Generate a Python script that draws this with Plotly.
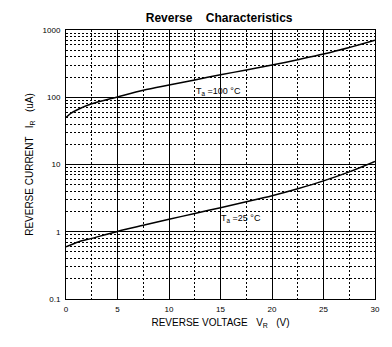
import plotly.graph_objects as go

voltage = [0, 0.5, 1.25, 2.5, 5, 7.5, 10, 12.5, 15, 17.5, 20, 22.5, 25, 27.5, 30]
i_100c = [50, 58, 67, 80, 101, 127, 152, 181, 216, 254, 301, 362, 439, 550, 706]
i_25c = [0.597, 0.64, 0.71, 0.797, 1.01, 1.245, 1.53, 1.87, 2.28, 2.79, 3.44, 4.37, 5.71, 7.76, 11.1]

y_ticks = [0.1, 1, 10, 100, 1000]
y_tick_text = ["0.1", "1", "10", "100", "1000"]
x_ticks = [0, 5, 10, 15, 20, 25, 30]

fig = go.Figure()
fig.add_trace(go.Scatter(x=voltage, y=i_100c, mode="lines",
                         line=dict(color="black", width=1.5, shape="spline", smoothing=0.8), showlegend=False))
fig.add_trace(go.Scatter(x=voltage, y=i_25c, mode="lines",
                         line=dict(color="black", width=1.5, shape="spline", smoothing=0.8), showlegend=False))

fnt = "Liberation Sans, Arial, sans-serif"
fig.add_annotation(x=12.4, y=2.08, text="T<sub>a</sub> =100 °C", showarrow=False, xanchor="left", yanchor="middle",
                   font=dict(family=fnt, size=9, color="black"))
fig.add_annotation(x=14.9, y=0.19, text="T<sub>a</sub> =25 °C", showarrow=False, xanchor="left", yanchor="middle",
                   font=dict(family=fnt, size=9, color="black"))

fig.update_layout(
    width=392, height=347,
    margin=dict(l=66, r=15, t=30, b=48),
    paper_bgcolor="white", plot_bgcolor="white",
    title=dict(text="<b>Reverse    Characteristics</b>", x=0.559, xanchor="center", y=0.948, yanchor="middle",
               font=dict(family=fnt, size=12, color="black")),
    font=dict(family=fnt, size=8, color="black"),
)
fig.update_xaxes(
    range=[0, 30], tickvals=x_ticks, ticks="", showline=True, linecolor="black", linewidth=1, mirror=True,
    showgrid=True, gridcolor="black", gridwidth=1, zeroline=False,
    minor=dict(dtick=2.5, showgrid=True, gridcolor="black", gridwidth=1, griddash="2px,2px", ticks=""),
    tickfont=dict(size=8), ticklabelstandoff=2,
    title=dict(text="REVERSE VOLTAGE   V<sub>R</sub>   (V)", font=dict(size=10), standoff=6),
)
fig.update_yaxes(
    type="log", range=[-1, 3], tickvals=y_ticks, ticktext=y_tick_text, ticks="", showline=True, linecolor="black",
    linewidth=1, mirror=True, showgrid=True, gridcolor="black", gridwidth=1, zeroline=False,
    minor=dict(dtick="D1", showgrid=True, gridcolor="black", gridwidth=1, griddash="2px,2px", ticks=""),
    tickfont=dict(size=8), ticklabelstandoff=3,
    title=dict(text="REVERSE CURRENT   I<sub>R</sub>   (uA)", font=dict(size=10), standoff=7),
)
fig.write_html("out.html")
